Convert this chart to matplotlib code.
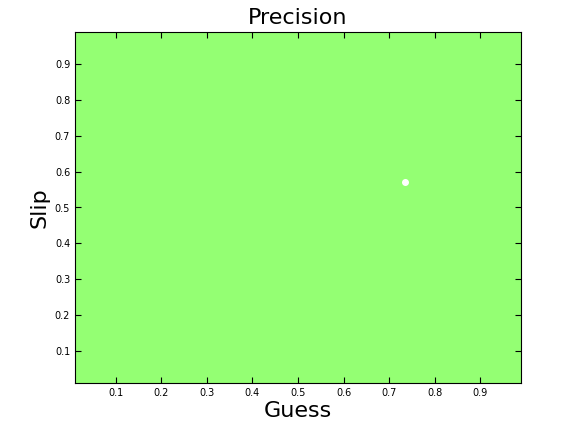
import matplotlib.pyplot as plt
import numpy as np

guess = [0.735]
slip = [0.571]
ticks = [0.1, 0.2, 0.3, 0.4, 0.5, 0.6, 0.7, 0.8, 0.9]

fig = plt.figure(figsize=(5.76, 4.32), dpi=100)
ax = fig.add_axes([75 / 576, 1 - 383 / 432, 446 / 576, 351 / 432])
ax.set_facecolor('#94ff73')
ax.plot(guess, slip, 'o', color='white', markersize=4)
ax.set_xlim(0.01, 0.99)
ax.set_ylim(0.01, 0.99)
ax.set_xticks(ticks)
ax.set_yticks(ticks)
ax.set_xticklabels([str(t) for t in ticks], fontsize=7)
ax.set_yticklabels([str(t) for t in ticks], fontsize=7)
ax.tick_params(direction='in', top=True, right=True, length=4)
ax.set_xlabel('Guess', fontsize=16, labelpad=2)
ax.set_ylabel('Slip', fontsize=16)
ax.set_title('Precision', fontsize=16)
fig.savefig('out.png')
